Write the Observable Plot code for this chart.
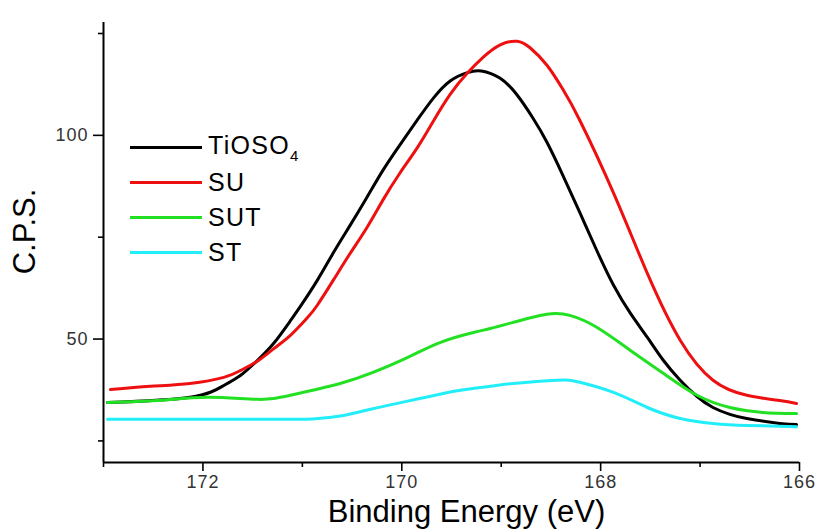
<!DOCTYPE html>
<html>
<head>
<meta charset="utf-8">
<script src="https://cdn.jsdelivr.net/npm/d3@7"></script>
<script src="https://cdn.jsdelivr.net/npm/@observablehq/plot@0.6"></script>
<style>
  html, body { margin: 0; padding: 0; background: #fff; }
  #wrap { position: relative; width: 819px; height: 529px; font-family: "Liberation Sans", Arial, sans-serif; }
  #legend { position: absolute; left: 130px; top: 130px; }
  .row { position: relative; height: 35px; display: flex; align-items: center; }
  .swatch { width: 72px; height: 3px; margin-right: 6px; }
  .lab { font-size: 25px; color: #000; line-height: 1; letter-spacing: 1.3px; }
  .lab sub { font-size: 15px; vertical-align: -7px; }
  g[aria-label$="tick label"] text { letter-spacing: 1px; }
</style>
</head>
<body>
<div id="wrap"><div id="legend"></div></div>
<script>
// Binding energy (eV) / counts per second
const seriesNames = ["TiOSO4", "SU", "SUT", "ST"];
const seriesColors = ["#000000", "#ee1010", "#22e022", "#22eefa"];

const tiosoX = [172.96,172.13,171.79,171.62,171.45,171.29,171.12,171.02,170.85,170.69,170.52,170.35,170.19,170.02,169.84,169.68,169.51,169.34,169.20,169.01,168.84,168.68,168.54,168.38,168.21,168.04,167.87,167.70,167.53,167.37,167.20,167.03,166.87,166.70,166.53,166.20,166.03];
const tiosoY = [34.4,35.7,38.6,41.1,44.8,48.9,54.5,58.0,64.4,71.1,77.9,84.8,91.4,97.6,103.9,109.2,113.4,115.4,115.8,114.0,109.9,104.2,98.3,90.2,81.1,71.8,63.2,56.3,50.4,44.8,39.9,35.9,33.2,31.5,30.5,29.3,29.0];

const suX = [172.93,172.53,172.13,171.79,171.62,171.45,171.29,171.12,170.95,170.85,170.69,170.52,170.35,170.19,170.02,169.84,169.68,169.51,169.34,169.18,169.01,168.84,168.71,168.54,168.38,168.21,167.87,167.53,167.20,166.87,166.53,166.20,166.03];
const suY = [37.6,38.4,39.1,40.6,42.3,44.6,47.6,50.9,55.2,58.3,64.4,71.0,77.4,84.1,90.7,97.1,103.6,110.2,115.3,119.2,122.2,123.1,121.5,117.2,111.3,103.7,85.8,66.1,49.7,39.9,36.2,34.9,34.2];

const sutX = [172.96,172.46,171.95,171.45,171.12,170.62,170.29,169.94,169.61,169.28,169.11,168.88,168.54,168.31,168.04,167.70,167.37,167.03,166.70,166.37,166.03];
const sutY = [34.4,34.9,35.7,35.2,36.2,39.1,41.8,45.5,49.2,51.6,52.6,54.1,56.1,55.8,52.9,47.2,41.6,36.2,33.2,32.0,31.7];

const stX = [172.96,172.13,171.12,170.85,170.62,170.29,169.78,169.44,169.11,168.88,168.44,168.21,167.87,167.53,167.20,166.87,166.53,166.03];
const stY = [30.3,30.3,30.3,30.5,31.1,32.9,35.6,37.3,38.4,39.1,39.9,39.4,36.9,33.2,30.5,29.3,28.8,28.5];

const xDomain = [173, 166];
const yDomain = [19.7, 127.7];
const xMajor = [172, 170, 168, 166];
const xMinor = [173, 171, 169, 167];
const yMajor = [50, 100];
const yMinor = [25, 75, 125];
const xTitle = "Binding Energy (eV)";
const yTitle = "C.P.S.";

const allX = [tiosoX, suX, sutX, stX];
const allY = [tiosoY, suY, sutY, stY];
const data = seriesNames.flatMap((s, i) => allX[i].map((v, j) => ({series: s, x: v, y: allY[i][j]})));

const chart = Plot.plot({
  width: 819,
  height: 529,
  marginLeft: 103,
  marginRight: 20,
  marginTop: 22,
  marginBottom: 67,
  style: {fontFamily: "'Liberation Sans', Arial, sans-serif", background: "#fff", overflow: "visible"},
  x: {domain: xDomain},
  y: {domain: yDomain},
  color: {domain: seriesNames, range: seriesColors},
  marks: [
    Plot.line(data, {x: "x", y: "y", z: "series", stroke: "series", strokeWidth: 3, curve: "natural"}),
    Plot.ruleX([xDomain[0]], {stroke: "#000", strokeWidth: 2}),
    Plot.ruleY([yDomain[0]], {stroke: "#000", strokeWidth: 2}),
    Plot.axisX(xMajor, {tickSize: 9, tickPadding: 4, fontSize: 18, fill: "#333", stroke: "#000", strokeWidth: 1.6, label: null}),
    Plot.axisX(xMinor, {tickSize: 5, tickFormat: () => "", stroke: "#000", strokeWidth: 1.6, label: null}),
    Plot.axisY(yMajor, {tickSize: 10, tickPadding: 5, fontSize: 18, fill: "#333", stroke: "#000", strokeWidth: 1.6, label: null}),
    Plot.axisY(yMinor, {tickSize: 5, tickFormat: () => "", stroke: "#000", strokeWidth: 1.6, label: null}),
    Plot.text([xTitle], {frameAnchor: "bottom", dx: 15, dy: 50, fontSize: 31, fill: "#000", lineAnchor: "middle"}),
    Plot.text([yTitle], {frameAnchor: "left", textAnchor: "middle", rotate: -90, dx: -78, dy: -11, fontSize: 31, fill: "#000", lineAnchor: "middle"})
  ]
});
document.getElementById("wrap").prepend(chart);

const legend = document.getElementById("legend");
const labels = ["TiOSO<sub>4</sub>", "SU", "SUT", "ST"];
seriesNames.forEach((s, i) => {
  const row = document.createElement("div");
  row.className = "row";
  row.innerHTML = `<div class="swatch" style="background:${seriesColors[i]}"></div><div class="lab">${labels[i]}</div>`;
  legend.appendChild(row);
});
</script>
</body>
</html>
